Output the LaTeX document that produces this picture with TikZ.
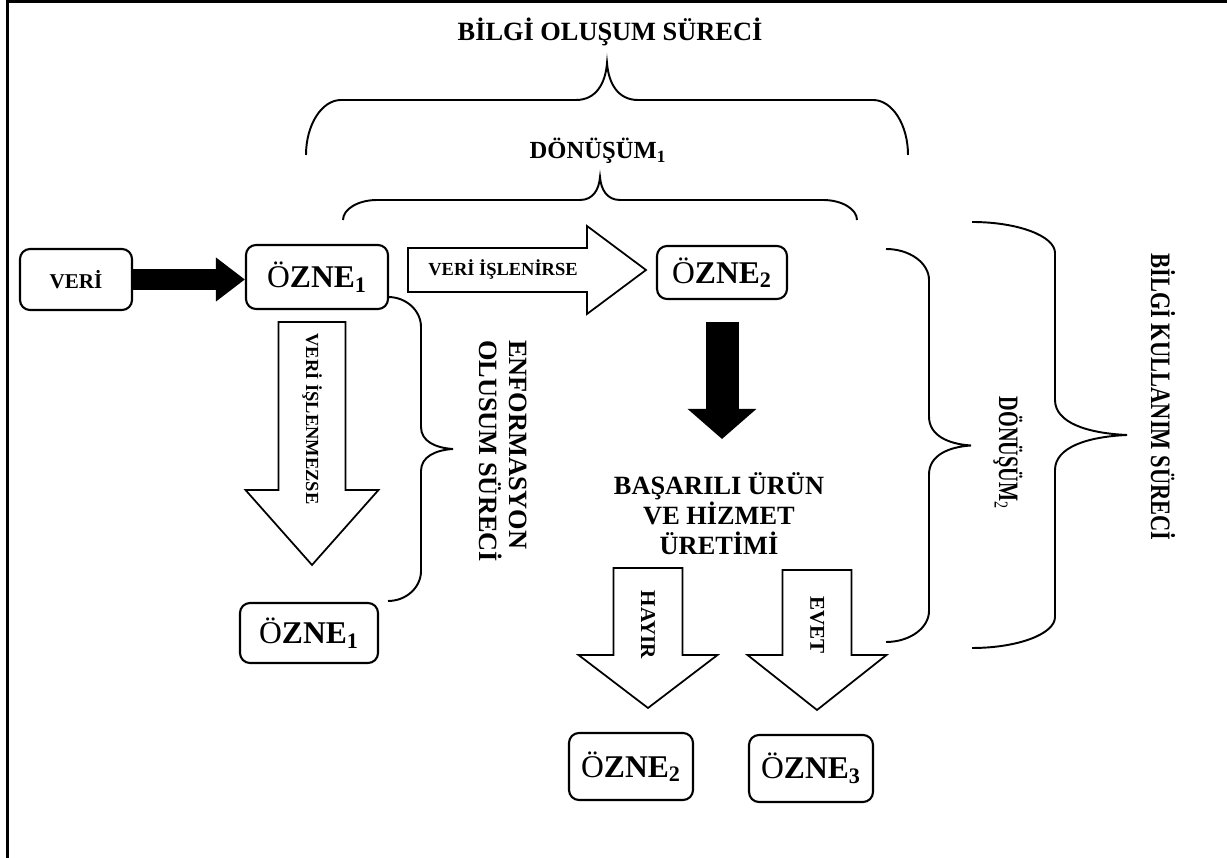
\documentclass[tikz,border=0pt]{standalone}
\usepackage{fontspec}
\setmainfont{Liberation Serif}
\usetikzlibrary{arrows.meta}

\tikzset{
  box/.style 2 args={draw, line width=1.2pt, rounded corners=0.2cm, inner sep=0pt,
    minimum width=#1, minimum height=#2},
  ozne/.style={font=\fontsize{18}{20}\selectfont},
  pics/hollow/.style n args={4}{code={
    \draw[line width=1pt, fill=white] (0,-#2) -- (#1-#4,-#2) -- (#1-#4,-#3) -- (#1,0)
      -- (#1-#4,#3) -- (#1-#4,#2) -- (0,#2) -- cycle;}},
  pics/curly/.style n args={5}{code={
    \draw[line width=1.1pt] (-#1,0) .. controls (-#1,0.55*#2) and (-#1+0.45*#4,#2) .. (-#1+#4,#2)
      -- (-#5,#2) .. controls (-0.35*#5,#2) and (-0.05*#5,0.55*#2+0.45*#3) .. (0,#3)
      .. controls (0.05*#5,0.55*#2+0.45*#3) and (0.35*#5,#2) .. (#5,#2)
      -- (#1-#4,#2) .. controls (#1-0.45*#4,#2) and (#1,0.55*#2) .. (#1,0);}}
}

\begin{document}
\begin{tikzpicture}[x=0.02cm, y=0.02cm]
    \useasboundingbox (0,0) rectangle (1227,858);
    \draw[line width=0.06cm] (7.5,0) -- (7.5,856.5) -- (1227,856.5);

    % kutular
    \node[box={2.24cm}{1.22cm}, font=\bfseries\fontsize{12}{14}\selectfont] (veri) at (76,578.5) {VERİ};
    \node[box={2.84cm}{1.28cm}, ozne] (ozneA) at (317,581) {Ö\textbf{ZNE}\textsubscript{\textbf{1}}};
    \node[box={2.76cm}{1.2cm}, ozne] (ozneB) at (309,225) {Ö\textbf{ZNE}\textsubscript{\textbf{1}}};
    \node[box={2.6cm}{1.06cm}, ozne] (ozneC) at (722,585.5) {Ö\textbf{ZNE}\textsubscript{\textbf{2}}};
    \node[box={2.48cm}{1.34cm}, ozne] (ozneD) at (631,91.5) {Ö\textbf{ZNE}\textsubscript{\textbf{2}}};
    \node[box={2.48cm}{1.34cm}, ozne] (ozneE) at (811,89.5) {Ö\textbf{ZNE}\textsubscript{\textbf{3}}};

    % siyah oklar
    \coordinate (tipC) at (722,419);
    \draw[line width=0.42cm, -{Triangle[length=0.58cm, width=0.84cm]}] (veri.east) -- (veri.east -| ozneA.west);
    \draw[line width=0.66cm, -{Triangle[length=0.6cm, width=1.34cm]}] ([yshift=-0.44cm]ozneC.south) -- (tipC);

    % bos oklar
    \pic at (408,588) {hollow={238}{22}{44}{59}};
    \pic[rotate=-90] at (312,536) {hollow={243}{33.5}{66.5}{75}};
    \pic[rotate=-90] at (648,290) {hollow={140}{34.5}{69.5}{53}};
    \pic[rotate=-90] at (817,288) {hollow={140}{34.5}{69.5}{55}};

    \node[font=\bfseries\fontsize{10.5}{12}\selectfont] (isle) at (503,588) {VERİ İŞLENİRSE};
    \node[rotate=-90, font=\bfseries\fontsize{10.5}{12}\selectfont] (islenmez) at (312,439) {VERİ İŞLENMEZSE};
    \node[rotate=-90, font=\bfseries\fontsize{12}{14}\selectfont] (hayir) at (648,233) {HAYIR};
    \node[rotate=-90, font=\bfseries\fontsize{12}{14}\selectfont] (evet) at (817,233) {EVET};

    % parantezler
    \pic at (607,703) {curly={301}{55}{92}{35}{31}};
    \pic at (600,638) {curly={257}{20}{43}{34}{20}};
    \pic[rotate=-90] at (388,409) {curly={152}{33}{65}{30}{22}};
    \pic[rotate=-90] at (886,412.5) {curly={196.5}{43}{85}{31}{29}};
    \pic[rotate=-90] at (972,423) {curly={213}{83}{155}{31}{35}};

    % yazilar
    \node[font=\bfseries\fontsize{15}{17}\selectfont] (olusum) at (610,826) {BİLGİ OLUŞUM SÜRECİ};
    \node[font=\bfseries\fontsize{14}{16}\selectfont] (donA) at (598,707) {DÖNÜŞÜM\textsubscript{1}};
    \node[rotate=-90, align=left, font=\bfseries\fontsize{15}{17}\selectfont] (enfo) at (503,407) {ENFORMASYON\\OLUSUM SÜRECİ};
    \node[align=center, font=\bfseries\fontsize{15}{17}\selectfont] (basari) at (719,344) {BAŞARILI ÜRÜN\\VE HİZMET\\ÜRETİMİ};
    \node[rotate=-90, xscale=.72, font=\bfseries\fontsize{16}{18}\selectfont] (donB) at (1008,405) {DÖNÜŞÜM\textsubscript{\mdseries 2}};
    \node[rotate=-90, xscale=.8, font=\bfseries\fontsize{16}{18}\selectfont] (kullanim) at (1163,461) {BİLGİ KULLANIM SÜRECİ};
\end{tikzpicture}
\end{document}
